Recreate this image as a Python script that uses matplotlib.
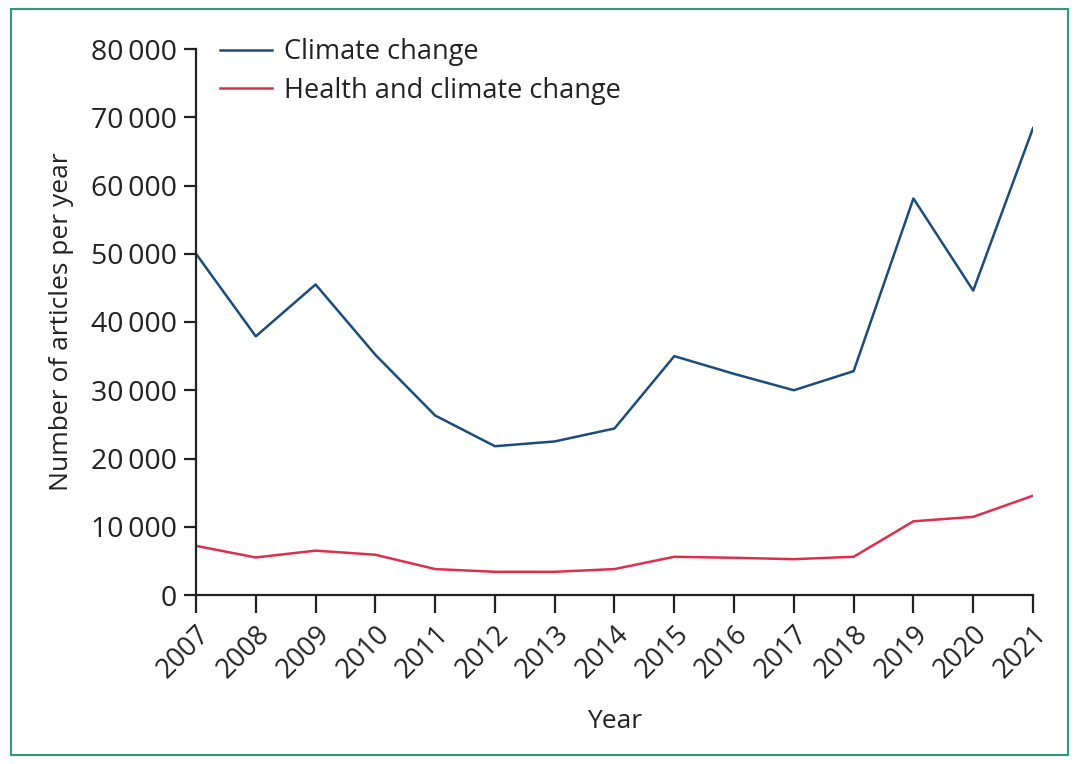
import matplotlib
matplotlib.use("Agg")
import matplotlib.pyplot as plt
from matplotlib.patches import Rectangle
from matplotlib.ticker import FuncFormatter

plt.rcParams['font.family'] = ['Open Sans', 'DejaVu Sans']

years = [2007, 2008, 2009, 2010, 2011, 2012, 2013, 2014, 2015, 2016, 2017, 2018, 2019, 2020, 2021]
climate = [50000, 37900, 45500, 35200, 26300, 21800, 22500, 24400, 35000, 32400, 30000, 32800, 58100, 44600, 68400]
health = [7200, 5500, 6500, 5900, 3800, 3400, 3400, 3800, 5600, 5450, 5250, 5600, 10800, 11450, 14550]
yticks = [0, 10000, 20000, 30000, 40000, 50000, 60000, 70000, 80000]

blue = '#1b4c7a'
red = '#dc2f4c'
textc = '#222222'

fig = plt.figure(figsize=(10.8, 7.64), dpi=100)
ax = fig.add_axes([196/1080, 1-595/764, (1033-196)/1080, (595-49)/764])

ax.plot(years, climate, color=blue, lw=1.8, label='Climate change')
ax.plot(years, health, color=red, lw=1.8, label='Health and climate change')

ax.set_xlim(years[0], years[-1])
ax.set_ylim(0, 80000)
ax.set_xticks(years)
ax.set_xticklabels([str(y) for y in years], rotation=45, ha='right', va='top',
                   rotation_mode='anchor', fontsize=19.5, color=textc)
ax.set_yticks(yticks)
ax.yaxis.set_major_formatter(FuncFormatter(lambda v, p: '0' if v == 0 else f"{int(v)//1000}\u2009000"))
ax.tick_params(axis='y', labelsize=20.5, length=9, width=1.6, colors=textc, pad=5)
ax.tick_params(axis='x', length=13, width=1.6, colors=textc, pad=5)
for s in ['top', 'right']:
    ax.spines[s].set_visible(False)
for s in ['left', 'bottom']:
    ax.spines[s].set_linewidth(1.6)
    ax.spines[s].set_color(textc)

ax.set_xlabel('Year', fontsize=19, color=textc, labelpad=18)
ax.set_ylabel('Number of articles per year', fontsize=19, color=textc, labelpad=12)

leg = ax.legend(loc='upper left', bbox_to_anchor=(0.0, 1.064), frameon=False,
                fontsize=19.5, handlelength=1.9, handletextpad=0.45, labelspacing=0.38)
for t in leg.get_texts():
    t.set_color(textc)

fig.patches.append(Rectangle((11/1080, 1-755/764), (1068-11)/1080, (755-9)/764,
                             transform=fig.transFigure, fill=False,
                             edgecolor='#2e9a78', lw=1.5))

fig.savefig('out.png', dpi=100)
